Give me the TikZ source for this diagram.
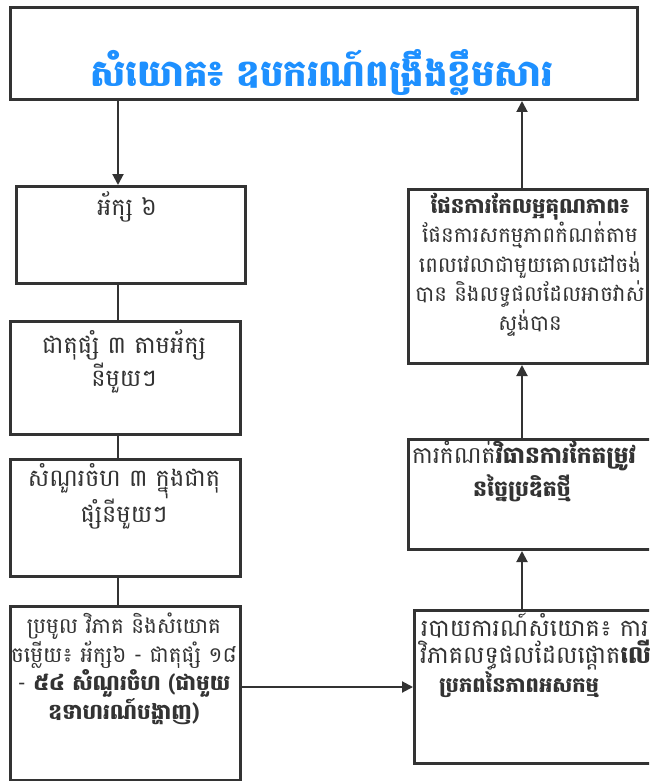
\documentclass[tikz,border=0pt]{standalone}
\usepackage{fontspec}
\newfontfamily\kh[Script=Khmer]{Battambang}
\usetikzlibrary{arrows.meta}
\definecolor{edge}{HTML}{333333}
\definecolor{titleblue}{HTML}{1E90FF}
\definecolor{ink}{HTML}{333333}
\begin{document}
\begin{tikzpicture}[x=1pt,y=-1pt,
  box/.style={draw=edge, line width=3pt, inner sep=0pt, anchor=north west},
  conn/.style={draw=edge, line width=2pt},
  arr/.style={conn, -{Triangle[length=11pt,width=11pt]}},
  txt/.style={text=ink, align=center, inner sep=0pt},
  ttl/.style={font=\kh\bfseries\fontsize{37}{42}\selectfont, text=titleblue, inner sep=0pt}]
\useasboundingbox (0,0) rectangle (649,781);
\clip (0,0) rectangle (649,781);
\fill[white] (0,0) rectangle (649,781);
% boxes
\node[box, minimum width=627pt, minimum height=92pt] (title) at (9,6) {};
\node[box, minimum width=229pt, minimum height=97pt] (b1) at (15,185) {};
\node[box, minimum width=230pt, minimum height=113pt] (b2) at (9,320) {};
\node[box, minimum width=230pt, minimum height=117pt] (b3) at (9,458) {};
\node[box, minimum width=230pt, minimum height=174pt] (b4) at (9,605) {};
\node[box, minimum width=260pt, minimum height=153pt] (b5) at (413,609) {};
\node[box, minimum width=260pt, minimum height=110pt] (b6) at (407,438) {};
\node[box, minimum width=239pt, minimum height=174pt] (b7) at (407,188) {};
% texts
\node[ttl] (tt) at (322,72) {សំយោគ៖ ឧបករណ៍ពង្រឹងខ្លឹមសារ};
\node[txt, font=\kh\fontsize{24}{33}\selectfont, anchor=north] (t1) at (127,191) {អ័ក្ស ៦};
\node[txt, font=\kh\fontsize{24}{33}\selectfont, anchor=north] (t2) at (124,329) {ជាតុផ្សំ ៣ តាមអ័ក្ស\\នីមួយៗ};
\node[txt, font=\kh\fontsize{24}{30}\selectfont, anchor=north] (t3) at (124,463) {សំណួរចំហ ៣ ក្នុងជាតុ\\ផ្សំនីមួយៗ};
\node[txt, font=\kh\fontsize{21.5}{28.5}\selectfont, anchor=north] (t4) at (124,613) {ប្រមូល វិភាគ និងសំយោគ\\ចម្លើយ៖ អ័ក្ស៦ - ជាតុផ្សំ ១៨\\- {\bfseries ៥៤ សំណួរចំហ (ជាមួយ}\\{\bfseries ឧទាហរណ៍បង្ហាញ)}};
\node[txt, font=\kh\fontsize{21.3}{29.3}\selectfont, anchor=north] (t7) at (530,193) {{\bfseries ផែនការកែលម្អគុណភាព៖}\\ផែនការសកម្មភាពកំណត់តាម\\ពេលវេលាជាមួយគោលដៅចង់\\បាន និងលទ្ធផលដែលអាចវាស់\\ស្ទង់បាន};
\node[txt, font=\kh\fontsize{23.3}{30}\selectfont, anchor=north west] (t6a) at (412,440) {ការកំណត់{\bfseries វិធានការកែតម្រូវ}};
\node[txt, font=\kh\fontsize{22}{30}\selectfont, anchor=north] (t6b) at (522,474) {{\bfseries នច្នៃប្រឌិតថ្មី}};
\node[txt, font=\kh\fontsize{24}{30}\selectfont, anchor=north west] (t5a) at (421,613) {របាយការណ៍សំយោគ៖ ការ};
\node[txt, font=\kh\fontsize{24}{30}\selectfont, anchor=north west] (t5b) at (420,640) {វិភាគលទ្ធផលដែលផ្តោត{\bfseries លើ}};
\node[txt, font=\kh\fontsize{21}{30}\selectfont, anchor=north] (t5c) at (519,671) {{\bfseries ប្រភពនៃភាពអសកម្ម}};
% connectors
\coordinate (L) at (118,0);
\coordinate (R) at (522,0);
\draw[arr] (title.south -| L) -- (b1.north -| L);
\draw[conn] (b1.south -| L) -- (b2.north -| L);
\draw[conn] (b2.south -| L) -- (b3.north -| L);
\draw[conn] (b3.south -| L) -- (b4.north -| L);
\coordinate (M) at (0,687);
\draw[arr] (b4.east |- M) -- (b5.west |- M);
\draw[arr] (b5.north -| R) -- (b6.south -| R);
\draw[arr] (b6.north -| R) -- (b7.south -| R);
\draw[arr] (b7.north -| R) -- (title.south -| R);
\end{tikzpicture}
\end{document}
